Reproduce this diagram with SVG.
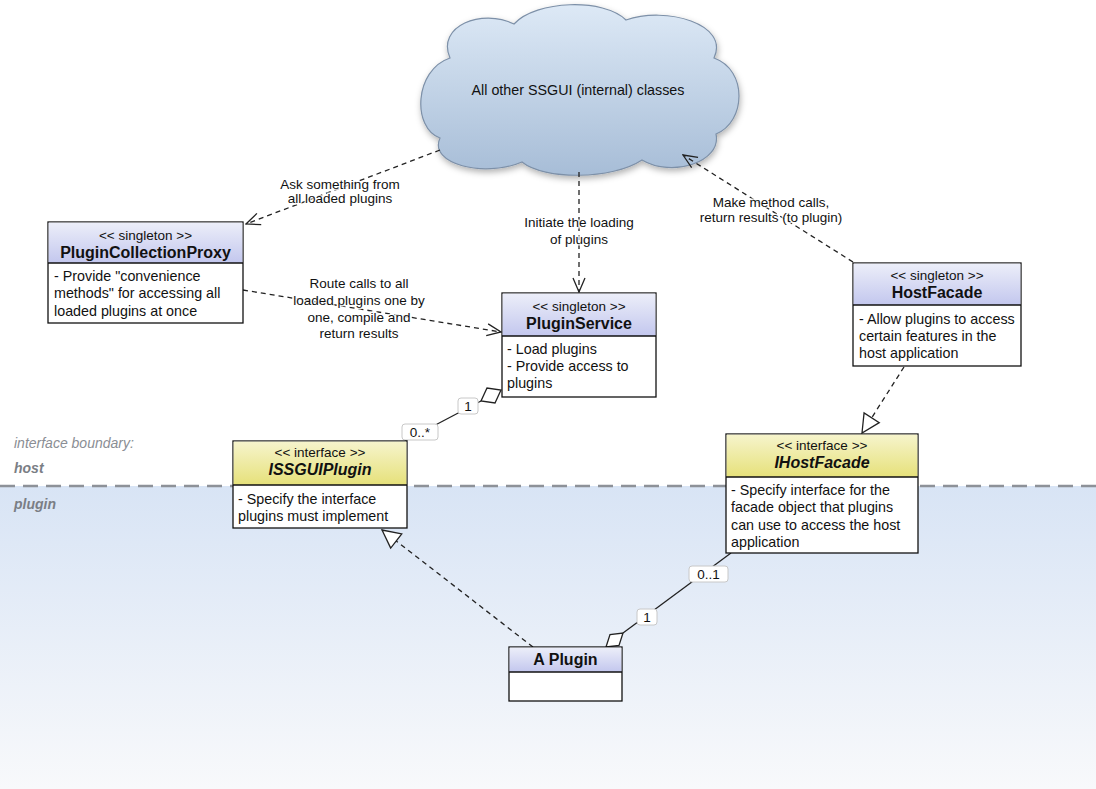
<svg xmlns="http://www.w3.org/2000/svg" width="1096" height="789" viewBox="0 0 1096 789">
  <style>
    text { font-family: "Liberation Sans", Arial, sans-serif; fill: #111; }
    .t { font-size: 14.3px; }
    .st { font-size: 13.5px; }
    .lbl { font-size: 13.5px; text-anchor: middle; stroke: #fff; stroke-width: 3; stroke-opacity: 0.75; paint-order: stroke; }
    .m { font-size: 13.5px; text-anchor: middle; }
    .c { text-anchor: middle; }
    .name { font-size: 16px; font-weight: bold; }
    .iname { font-size: 16px; font-weight: bold; font-style: italic; }
    .box { fill: #fff; stroke: #111; stroke-width: 1.3; }
    .div { stroke: #111; stroke-width: 1.3; }
    .dash { fill: none; stroke: #222; stroke-width: 1.3; stroke-dasharray: 5 4; }
    .solid { fill: none; stroke: #222; stroke-width: 1.3; }
    .diamond { fill: #fff; stroke: #222; stroke-width: 1.3; }
    .mult { fill: #fff; stroke: #c8c8c8; stroke-width: 1; }
    .zone { font-size: 14px; fill: #8a8e94; font-style: italic; }
    .zoneb { font-size: 14px; fill: #7a7e85; font-style: italic; font-weight: bold; }
  </style>
  <defs>
    <linearGradient id="plugZone" x1="0" y1="0" x2="0" y2="1">
      <stop offset="0" stop-color="#d8e4f5"/>
      <stop offset="1" stop-color="#f8f9fb"/>
    </linearGradient>
    <linearGradient id="blueHead" x1="0" y1="0" x2="0" y2="1">
      <stop offset="0" stop-color="#eceef9"/>
      <stop offset="1" stop-color="#c3c7ee"/>
    </linearGradient>
    <linearGradient id="yellowHead" x1="0" y1="0" x2="0" y2="1">
      <stop offset="0" stop-color="#f6f4cc"/>
      <stop offset="1" stop-color="#e6e17a"/>
    </linearGradient>
    <linearGradient id="cloudFill" x1="0" y1="0" x2="0" y2="1">
      <stop offset="0" stop-color="#dde9f6"/>
      <stop offset="1" stop-color="#a7bdd7"/>
    </linearGradient>
    <filter id="shadow" x="-10%" y="-10%" width="125%" height="130%">
      <feDropShadow dx="1" dy="3" stdDeviation="3" flood-color="#000" flood-opacity="0.3"/>
    </filter>
    <marker id="openArrow" markerUnits="userSpaceOnUse" viewBox="0 0 16 14" markerWidth="16" markerHeight="14" refX="15" refY="7" orient="auto">
      <path d="M1,1 L15,7 L1,13" fill="none" stroke="#222" stroke-width="1.3" stroke-dasharray="none"/>
    </marker>
    <marker id="realize" markerUnits="userSpaceOnUse" viewBox="0 0 22 22" markerWidth="22" markerHeight="22" refX="20" refY="11" orient="auto">
      <path d="M2,2 L20,11 L2,20 Z" fill="#fff" stroke="#222" stroke-width="1.3" stroke-dasharray="none"/>
    </marker>
  </defs>

  <!-- background: host side white, plugin side tinted -->
  <rect x="0" y="0" width="1096" height="789" fill="#fff"/>
  <rect x="0" y="486" width="1096" height="303" fill="url(#plugZone)"/>
  <line x1="0" y1="486" x2="1096" y2="486" stroke="#8d9198" stroke-width="2.5" stroke-dasharray="15 8"/>
  <g id="boundary-labels">
    <text class="zone" x="14" y="448">interface boundary:</text>
    <text class="zoneb" x="14" y="473">host</text>
    <text class="zoneb" x="14" y="509">plugin</text>
  </g>

  <!-- cloud -->
  <g id="ssgui-classes">
    <path filter="url(#shadow)" fill="url(#cloudFill)" stroke="#7d90a8" stroke-width="1.2"
      d="M450,58 C436,26 482,8 514,24 C536,0 604,-2 626,20 C666,6 730,24 714,58 C748,70 746,122 716,134 C722,162 672,178 642,160 C612,180 544,180 522,162 C484,178 428,164 440,138 C412,128 414,70 450,58 Z"/>
    <text class="t c" x="578" y="95">All other SSGUI (internal) classes</text>
  </g>

  <!-- connectors -->
  <g id="connectors">
    <path class="dash" d="M440,150 L246,224" marker-end="url(#openArrow)"/>
    <path class="dash" d="M579,172 L579,292" marker-end="url(#openArrow)"/>
    <path class="dash" d="M853,262 L683,155" marker-end="url(#openArrow)"/>
    <path class="dash" d="M243,290 L501,332" marker-end="url(#openArrow)"/>
    <path class="dash" d="M904,367 L862,433" marker-end="url(#realize)"/>
    <path class="dash" d="M533,647 L382,530" marker-end="url(#realize)"/>
    <!-- aggregations -->
    <path class="solid" d="M405,441 L481,401"/>
    <polygon class="diamond" points="501,390 495,403 481,401 487,388"/>
    <path class="solid" d="M731,553 L623,633"/>
    <polygon class="diamond" points="606,647 619,645.5 623,633 610,634.5"/>

    <!-- labels -->
    <text class="lbl" x="340" y="189">Ask something from</text>
    <text class="lbl" x="340" y="203">all loaded plugins</text>
    <text class="lbl" x="579" y="227">Initiate the loading</text>
    <text class="lbl" x="579" y="244">of plugins</text>
    <text class="lbl" x="771" y="207">Make method calls,</text>
    <text class="lbl" x="771" y="222">return results (to plugin)</text>
    <text class="lbl" x="359" y="288">Route calls to all</text>
    <text class="lbl" x="359" y="305">loaded plugins one by</text>
    <text class="lbl" x="359" y="322">one, compile and</text>
    <text class="lbl" x="359" y="338">return results</text>

    <rect class="mult" x="458" y="398" width="20" height="16" rx="3"/>
    <text class="m" x="468" y="411">1</text>
    <rect class="mult" x="402" y="424" width="36" height="16" rx="3"/>
    <text class="m" x="420" y="437">0..*</text>
    <rect class="mult" x="689" y="566" width="39" height="16" rx="3"/>
    <text class="m" x="708.5" y="579">0..1</text>
    <rect class="mult" x="637" y="609" width="20" height="16" rx="3"/>
    <text class="m" x="647" y="622">1</text>
  </g>

  <g id="plugin-collection-proxy">
    <rect class="box" x="48" y="222" width="195" height="101"/>
    <rect x="48.6" y="222.6" width="193.8" height="40.4" fill="url(#blueHead)"/>
    <line class="div" x1="48" y1="263" x2="243" y2="263"/>
    <text class="st c" x="145.5" y="240">&lt;&lt; singleton &gt;&gt;</text>
    <text class="name c" x="145.5" y="258">PluginCollectionProxy</text>
    <text class="t" x="54" y="281">- Provide "convenience</text>
    <text class="t" x="54" y="298">methods" for accessing all</text>
    <text class="t" x="54" y="316">loaded plugins at once</text>
  </g>

  <g id="plugin-service">
    <rect class="box" x="502" y="293" width="154" height="104"/>
    <rect x="502.6" y="293.6" width="152.8" height="42.4" fill="url(#blueHead)"/>
    <line class="div" x1="502" y1="336" x2="656" y2="336"/>
    <text class="st c" x="579" y="311">&lt;&lt; singleton &gt;&gt;</text>
    <text class="name c" x="579" y="329">PluginService</text>
    <text class="t" x="507" y="354">- Load plugins</text>
    <text class="t" x="507" y="371">- Provide access to</text>
    <text class="t" x="507" y="388">plugins</text>
  </g>

  <g id="host-facade">
    <rect class="box" x="853" y="263" width="168" height="103"/>
    <rect x="853.6" y="263.6" width="166.8" height="41.4" fill="url(#blueHead)"/>
    <line class="div" x1="853" y1="305" x2="1021" y2="305"/>
    <text class="st c" x="937" y="280">&lt;&lt; singleton &gt;&gt;</text>
    <text class="name c" x="937" y="298">HostFacade</text>
    <text class="t" x="859" y="324">- Allow plugins to access</text>
    <text class="t" x="859" y="341">certain features in the</text>
    <text class="t" x="859" y="358">host application</text>
  </g>

  <g id="issgui-plugin">
    <rect class="box" x="233" y="441" width="174" height="87"/>
    <rect x="233.6" y="441.6" width="172.8" height="43.4" fill="url(#yellowHead)"/>
    <line class="div" x1="233" y1="485" x2="407" y2="485"/>
    <text class="st c" x="320" y="457">&lt;&lt; interface &gt;&gt;</text>
    <text class="iname c" x="320" y="475">ISSGUIPlugin</text>
    <text class="t" x="238" y="504">- Specify the interface</text>
    <text class="t" x="238" y="521">plugins must implement</text>
  </g>

  <g id="ihost-facade">
    <rect class="box" x="726" y="434" width="192" height="119"/>
    <rect x="726.6" y="434.6" width="190.8" height="42.4" fill="url(#yellowHead)"/>
    <line class="div" x1="726" y1="477" x2="918" y2="477"/>
    <text class="st c" x="822" y="450">&lt;&lt; interface &gt;&gt;</text>
    <text class="iname c" x="822" y="468">IHostFacade</text>
    <text class="t" x="731" y="495">- Specify interface for the</text>
    <text class="t" x="731" y="512">facade object that plugins</text>
    <text class="t" x="731" y="530">can use to access the host</text>
    <text class="t" x="731" y="547">application</text>
  </g>

  <g id="a-plugin">
    <rect class="box" x="509" y="647" width="113" height="54"/>
    <rect x="509.6" y="647.6" width="111.8" height="24.4" fill="url(#blueHead)"/>
    <line class="div" x1="509" y1="672" x2="622" y2="672"/>
    <text class="name c" x="565.5" y="665">A Plugin</text>
  </g>
</svg>
